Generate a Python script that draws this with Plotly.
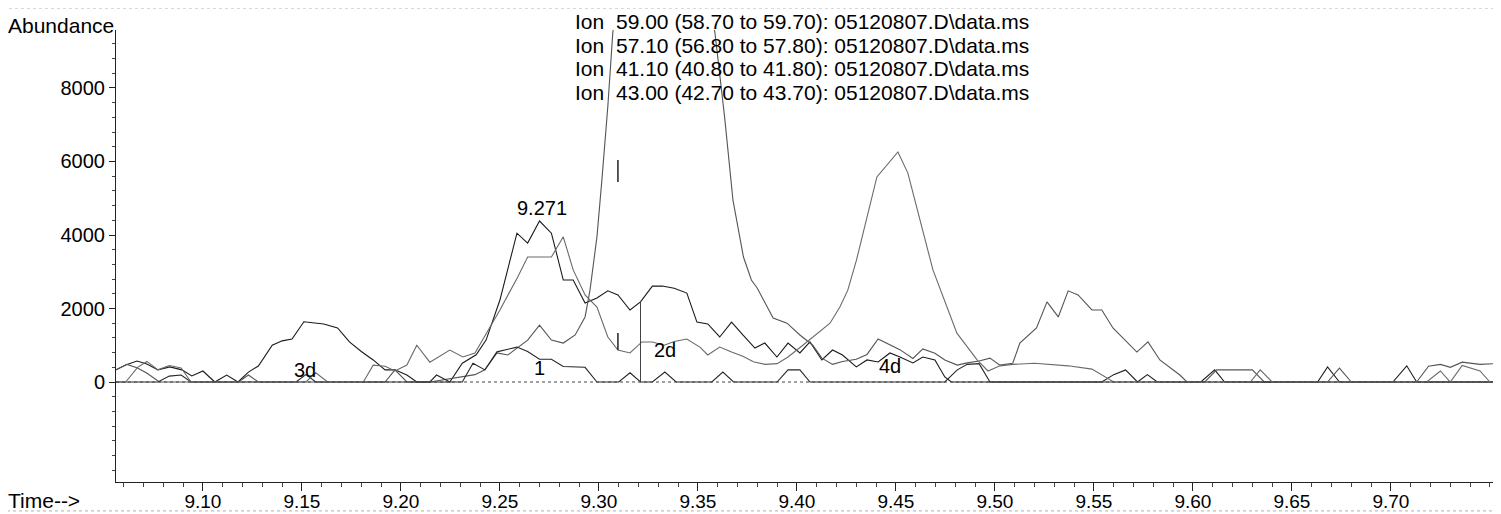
import plotly.graph_objects as go

# Extracted ion chromatograms (time in min, abundance)
# ion 43.00 - dark trace with apex at 9.271
t_ion43 = [9.0561, 9.061, 9.0667, 9.0717, 9.0773, 9.0833, 9.0894, 9.0944, 9.100, 9.106, 9.112, 9.1177,
           9.123, 9.128, 9.135, 9.140, 9.145, 9.151, 9.161, 9.168, 9.174, 9.180, 9.186, 9.192, 9.197,
           9.203, 9.208, 9.2247, 9.231, 9.238, 9.243, 9.250, 9.2586, 9.264, 9.270, 9.276, 9.282, 9.287,
           9.293, 9.299, 9.3045, 9.3096, 9.3157, 9.321, 9.327, 9.332, 9.338, 9.3444, 9.3495, 9.355, 9.361,
           9.367, 9.3727, 9.3788, 9.3838, 9.3899, 9.3955, 9.4015, 9.4066, 9.4126, 9.418, 9.423, 9.430,
           9.4354, 9.441, 9.447, 9.452, 9.4586, 9.4636, 9.4697, 9.4747, 9.478, 9.554, 9.560, 9.566, 9.572,
           9.577, 9.582, 9.604, 9.611, 9.616, 9.663, 9.668, 9.674, 9.701, 9.708, 9.713, 9.7556]
ab_ion43 = [330, 460, 570, 490, 330, 410, 330, 165, 300, 0, 190, 0,
            270, 435, 1000, 1120, 1170, 1640, 1580, 1470, 1090, 830, 600, 330, 330,
            190, 0, 0, 510, 740, 1140, 2230, 4050, 3780, 4380, 4050, 2775, 2775,
            2150, 2285, 2480, 2370, 1960, 2180, 2610, 2610, 2550, 2420, 1630, 1580, 1225,
            1630, 1280, 925, 1060, 680, 1060, 790, 1090, 600, 870, 735, 410,
            600, 545, 790, 680, 517, 680, 600, 136, 0, 0, 200, 330, 0,
            200, 0, 0, 330, 0, 0, 410, 0, 0, 440, 0, 0]

# ion 41.10 - the tall off-scale peak
t_ion41 = [9.0561, 9.0617, 9.067, 9.072, 9.078, 9.118, 9.123, 9.128, 9.192, 9.197, 9.203, 9.2146,
           9.2374, 9.2424, 9.2485, 9.254, 9.264, 9.270, 9.276, 9.282, 9.288, 9.293, 9.2955, 9.299,
           9.3015, 9.3045, 9.307, 9.312, 9.318, 9.324, 9.330, 9.336, 9.342, 9.348, 9.354, 9.3586,
           9.3635, 9.3677, 9.373, 9.377, 9.380, 9.388, 9.395, 9.4015, 9.408, 9.4126, 9.418, 9.423,
           9.430, 9.4354, 9.441, 9.447, 9.452, 9.4586, 9.4636, 9.4697, 9.4747, 9.481, 9.486, 9.492,
           9.4975, 9.5025, 9.509, 9.5126, 9.521, 9.5263, 9.532, 9.537, 9.542, 9.549, 9.554, 9.5596,
           9.5667, 9.5717, 9.5773, 9.5833, 9.5934, 9.597, 9.606, 9.612, 9.630, 9.636, 9.668, 9.674,
           9.680, 9.713, 9.719, 9.725, 9.730, 9.736, 9.745, 9.7556]
ab_ion41 = [330, 480, 380, 230, 0, 0, 190, 0, 0, 330, 0, 0,
            200, 330, 790, 735, 1140, 1550, 1140, 1060, 1280, 1770, 2500, 3950,
            5500, 7500, 9500, 12500, 15000, 16500, 17000, 16500, 15000, 13500, 11000, 9500,
            7200, 4950, 3400, 2775, 2550, 1740, 1600, 1280, 1000, 650, 480, 560,
            620, 750, 1170, 1000, 880, 640, 900, 780, 600, 460, 520, 570,
            650, 460, 510, 1060, 1470, 2180, 1770, 2480, 2370, 1960, 1960, 1470,
            1090, 815, 1090, 600, 190, 0, 0, 330, 330, 0, 0, 380,
            0, 0, 430, 480, 400, 540, 480, 510]

# ion 59.00 - low trace ("1")
t_ion59 = [9.0561, 9.0773, 9.083, 9.089, 9.094, 9.147, 9.152, 9.157, 9.2146, 9.218, 9.2247, 9.231,
           9.2364, 9.2424, 9.2485, 9.2586, 9.264, 9.270, 9.276, 9.282, 9.293, 9.299, 9.310, 9.3157,
           9.321, 9.327, 9.3333, 9.339, 9.357, 9.3626, 9.368, 9.390, 9.3955, 9.4015, 9.4066, 9.4747,
           9.481, 9.486, 9.492, 9.4975, 9.7556]
ab_ion59 = [0, 0, 160, 190, 0, 0, 200, 0, 0, 190, 0, 0,
            510, 330, 820, 950, 830, 620, 620, 420, 400, 0, 0, 250,
            0, 0, 270, 0, 0, 270, 0, 0, 330, 330, 0, 0,
            330, 480, 500, 0, 0]

# ion 57.10 - grey trace ("2d", "4d") with the 9.45 peak
t_ion57 = [9.0561, 9.061, 9.067, 9.0717, 9.0773, 9.083, 9.089, 9.094, 9.152, 9.157, 9.163, 9.181,
           9.186, 9.192, 9.197, 9.203, 9.208, 9.2146, 9.2247, 9.2313, 9.2374, 9.2434, 9.250, 9.259,
           9.264, 9.276, 9.282, 9.287, 9.293, 9.299, 9.3045, 9.3096, 9.3157, 9.3217, 9.327, 9.333,
           9.338, 9.3444, 9.351, 9.355, 9.361, 9.367, 9.3727, 9.378, 9.384, 9.390, 9.3955, 9.403,
           9.4106, 9.4167, 9.4217, 9.4257, 9.430, 9.435, 9.4404, 9.451, 9.456, 9.4687, 9.4808, 9.491,
           9.4965, 9.5025, 9.509, 9.520, 9.527, 9.537, 9.549, 9.554, 9.560, 9.629, 9.634, 9.640,
           9.718, 9.725, 9.730, 9.736, 9.745, 9.750, 9.7556]
ab_ion57 = [0, 0, 400, 560, 330, 450, 380, 0, 0, 250, 0, 0,
            460, 430, 300, 460, 1000, 540, 870, 680, 790, 1330, 1960, 2860,
            3400, 3400, 3950, 3050, 2370, 2040, 1225, 870, 790, 1090, 1090, 1000,
            1100, 1170, 950, 735, 950, 815, 700, 550, 480, 500, 680, 1000,
            1330, 1600, 2040, 2500, 3300, 4400, 5580, 6260, 5690, 3050, 1330, 600,
            300, 440, 480, 510, 480, 440, 350, 190, 0, 0, 330, 0,
            0, 300, 0, 450, 300, 0, 0]

ion_labels = ["59.00 (58.70 to 59.70): 05120807.D\\data.ms",
              "57.10 (56.80 to 57.80): 05120807.D\\data.ms",
              "41.10 (40.80 to 41.80): 05120807.D\\data.ms",
              "43.00 (42.70 to 43.70): 05120807.D\\data.ms"]

x_ticks = [9.10, 9.15, 9.20, 9.25, 9.30, 9.35, 9.40, 9.45, 9.50, 9.55, 9.60, 9.65, 9.70]
y_ticks = [0, 2000, 4000, 6000, 8000]

# peak / integration labels
peak_labels = ["9.271", "3d", "1", "2d", "4d"]
peak_label_t = [9.271, 9.1515, 9.270, 9.3333, 9.447]
peak_label_ab = [4735, 330, 380, 870, 435]

# integration marks
mark_t = [9.3096, 9.3096]
mark_lo = [5440, 870]
mark_hi = [6040, 1330]
drop_t = 9.321

fig = go.Figure()
traces = [(t_ion43, ab_ion43, "#1a1a1a"), (t_ion41, ab_ion41, "#555555"),
          (t_ion59, ab_ion59, "#262626"), (t_ion57, ab_ion57, "#6a6a6a")]
for tt, ab, col in traces:
    fig.add_trace(go.Scatter(x=tt, y=ab, mode="lines", line=dict(color=col, width=1.1),
                             showlegend=False, hoverinfo="skip"))

font = "Liberation Sans, Arial, Helvetica, sans-serif"

# zero baseline (dotted)
fig.add_shape(type="line", xref="paper", yref="y", x0=0, x1=1, y0=0, y1=0,
              line=dict(color="#444", width=1, dash="dot"))

for t, lo, hi in zip(mark_t, mark_lo, mark_hi):
    fig.add_shape(type="line", xref="x", yref="y", x0=t, x1=t, y0=lo, y1=hi,
                  line=dict(color="#222", width=1.5))
drop_ab = ab_ion43[t_ion43.index(drop_t)]
fig.add_shape(type="line", xref="x", yref="y", x0=drop_t, x1=drop_t, y0=0, y1=drop_ab,
              line=dict(color="#444", width=1))

# faint scan frame
fig.add_shape(type="rect", xref="paper", yref="paper", x0=-0.0787, x1=1.0, y0=-0.064, y1=1.0487,
              line=dict(color="#b0b0b0", width=1, dash="dot"), layer="below")

for txt, t, ab in zip(peak_labels, peak_label_t, peak_label_ab):
    fig.add_annotation(x=t, y=ab, xref="x", yref="y", text=txt, showarrow=False,
                       font=dict(size=20, color="black", family=font))

row_y = [1.0199, 0.9668, 0.9159, 0.8628]
for lab, ry in zip(ion_labels, row_y):
    fig.add_annotation(x=0.3300, y=ry, xref="paper", yref="paper", text="Ion", showarrow=False,
                       xanchor="left", yanchor="middle", font=dict(size=21, color="black", family=font))
    fig.add_annotation(x=0.3597, y=ry, xref="paper", yref="paper", text=lab, showarrow=False,
                       xanchor="left", yanchor="middle", font=dict(size=21, color="black", family=font))

fig.add_annotation(x=-0.0794, y=1.011, xref="paper", yref="paper", text="Abundance", showarrow=False,
                   xanchor="left", yanchor="middle", font=dict(size=21, color="black", family=font))
fig.add_annotation(x=-0.0794, y=-0.04, xref="paper", yref="paper", text="Time-->", showarrow=False,
                   xanchor="left", yanchor="middle", font=dict(size=21, color="black", family=font))

fig.update_xaxes(range=[9.0561, 9.7556], tickmode="array", tickvals=x_ticks, automargin=False,
                 ticktext=[f"{v:.2f}" for v in x_ticks], ticks="outside", ticklen=8, tickcolor="#222",
                 ticklabelstandoff=-6,
                 minor=dict(dtick=0.01, tick0=9.0, ticks="outside", ticklen=4, tickcolor="#444"),
                 showline=True, linecolor="#222", linewidth=1, showgrid=False, zeroline=False,
                 tickfont=dict(size=19, family=font, color="black"))
fig.update_yaxes(range=[-2721, 9578], tickmode="array", tickvals=y_ticks, automargin=False,
                 ticktext=[str(v) for v in y_ticks], ticks="outside", ticklen=6, tickcolor="#222",
                 minor=dict(dtick=400, tick0=0, ticks="outside", ticklen=3, tickcolor="#444"),
                 showline=True, linecolor="#222", linewidth=1, showgrid=False, zeroline=False,
                 tickfont=dict(size=20, family=font, color="black"))

# the page body adds an 8px offset, so the figure is 8px smaller on each side
fig.update_layout(width=1493, height=506, margin=dict(l=108, r=0, t=22, b=32),
                  plot_bgcolor="white", paper_bgcolor="white",
                  font=dict(family=font, size=20, color="black"))

fig.write_html("out.html")
